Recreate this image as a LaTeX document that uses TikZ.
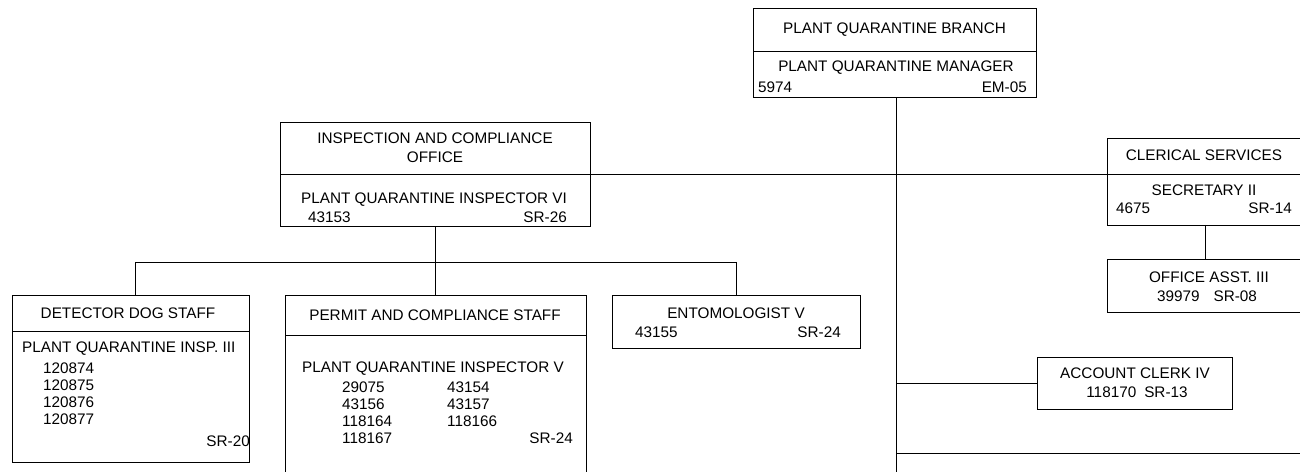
\documentclass[tikz,border=0pt]{standalone}
\usepackage{fontspec}
\setmainfont{Liberation Sans}
\begin{document}
\begin{tikzpicture}[x=1bp,y=-1bp,
  box/.style={draw, line width=0.8bp, inner sep=0, minimum width=#1},
  ln/.style={line width=0.8bp},
  txt/.style={inner sep=0, font=\fontsize{15.3bp}{17bp}\selectfont},
  tl/.style={txt, anchor=west},
  tr/.style={txt, anchor=east}]
\clip (0,0) rectangle (1300,472);
\fill[white] (0,0) rectangle (1300,472);
% ---------- boxes ----------
\node[box=283bp, minimum height=89bp] (qb) at (894.5,52.5) {};
\coordinate (qbdl) at (753,51); \coordinate (qbdr) at (1036,51);
\node[box=310bp, minimum height=104bp] (insp) at (435,174) {};
\coordinate (indl) at (280,174);
\node[box=203bp, minimum height=87bp] (cler) at (1208.5,181.5) {};
\node[box=203bp, minimum height=53bp] (oa) at (1208.5,285.5) {};
\node[box=237bp, minimum height=167bp] (dd) at (130.5,378.5) {};
\coordinate (dddl) at (12,331); \coordinate (dddr) at (249,331);
\node[box=301bp, minimum height=200bp] (pc) at (435.5,395) {};
\coordinate (pcdl) at (285,335); \coordinate (pcdr) at (586,335);
\node[box=248bp, minimum height=53bp] (ent) at (736,321.5) {};
\node[box=195bp, minimum height=52bp] (ac) at (1134.5,383) {};
% ---------- dividers ----------
\draw[ln] (qbdl) -- (qbdr);
\draw[ln] (dddl) -- (dddr);
\draw[ln] (pcdl) -- (pcdr);
% ---------- connectors ----------
\coordinate (vend) at (896,480);
\coordinate (hend) at (1310,174);
\coordinate (bus1) at (135,262);
\coordinate (bus3) at (736,262);
\coordinate (botend) at (1310,453);
\draw[ln] (qb.south -| vend) -- (vend);
\draw[ln] (indl) -- (hend);
\draw[ln] (insp.south) -- (insp.south |- bus1);
\draw[ln] (bus1) -- (bus3);
\draw[ln] (bus1) -- (bus1 |- dd.north);
\draw[ln] (pc.north |- bus1) -- (pc.north);
\draw[ln] (bus3) -- (bus3 |- ent.north);
\draw[ln] (1205,225) -- (1205,259);
\draw[ln] (vend |- ac.west) -- (ac.west);
\draw[ln] (vend |- botend) -- (botend);
% ---------- texts ----------
\node[txt] (t1) at (894.5,30) {PLANT QUARANTINE BRANCH};
\node[txt] (t2) at (896,68) {PLANT QUARANTINE MANAGER};
\node[tl] (t3) at (758,87) {5974};
\node[tr] (t4) at (1027,87) {EM-05};
\node[txt] (t5) at (435,138) {INSPECTION AND COMPLIANCE};
\node[txt] (t6) at (435,157) {OFFICE};
\node[txt] (t7) at (434,200) {PLANT QUARANTINE INSPECTOR VI};
\node[tl] (t8) at (308,217) {43153};
\node[tr] (t9) at (567,217) {SR-26};
\node[txt] (t10) at (1204,155) {CLERICAL SERVICES};
\node[txt] (t11) at (1204,190) {SECRETARY II};
\node[tl] (t12) at (1116,208) {4675};
\node[tr] (t13) at (1292,208) {SR-14};
\node[txt] (t14) at (1209,277) {OFFICE ASST. III};
\node[txt] (t15) at (1207,296) {39979\hspace{14bp}SR-08};
\node[txt] (t16) at (1135,373) {ACCOUNT CLERK IV};
\node[txt] (t17) at (1137,392) {118170\hspace{8bp}SR-13};
\node[txt] (t18) at (736,313) {ENTOMOLOGIST V};
\node[tl] (t19) at (635,332) {43155};
\node[tr] (t20) at (841,332) {SR-24};
\node[txt] (t21) at (128,313) {DETECTOR DOG STAFF};
\node[tl] (t22) at (22,349) {PLANT QUARANTINE INSP. III};
\node[tl] (t23) at (43,368) {120874};
\node[tl] (t24) at (43,385) {120875};
\node[tl] (t25) at (43,402) {120876};
\node[tl] (t26) at (43,419) {120877};
\node[tr] (t27) at (250,441) {SR-20};
\node[txt] (t28) at (435,315) {PERMIT AND COMPLIANCE STAFF};
\node[tl] (t29) at (302,369) {PLANT QUARANTINE INSPECTOR V};
\node[tl] (t30) at (342,387) {29075};
\node[tl] (t31) at (342,404) {43156};
\node[tl] (t32) at (342,421) {118164};
\node[tl] (t33) at (342,438) {118167};
\node[tl] (t34) at (447,387) {43154};
\node[tl] (t35) at (447,404) {43157};
\node[tl] (t36) at (447,421) {118166};
\node[tr] (t37) at (573,438) {SR-24};
\end{tikzpicture}
\end{document}
